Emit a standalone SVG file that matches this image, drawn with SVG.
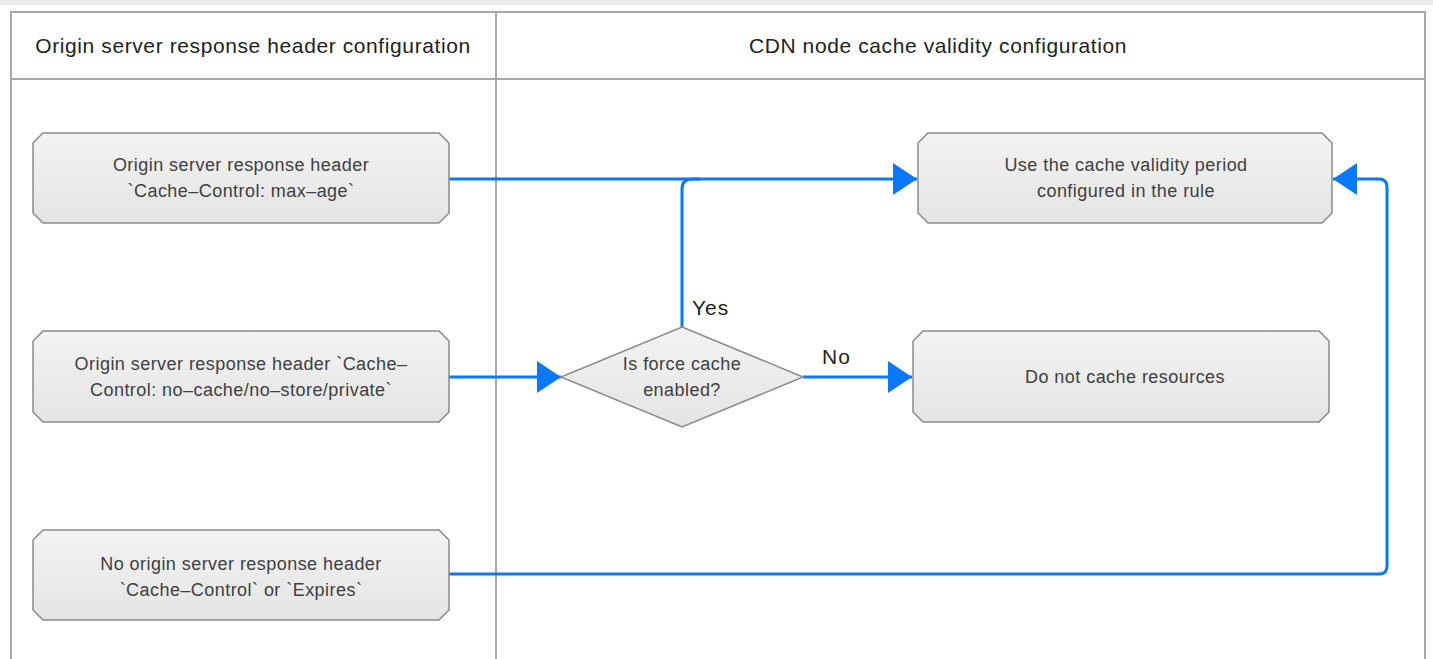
<svg xmlns="http://www.w3.org/2000/svg" width="1433" height="659" viewBox="0 0 1433 659">
  <defs>
    <linearGradient id="nodeFill" x1="0" y1="0" x2="0" y2="1">
      <stop offset="0" stop-color="#f3f3f3"/>
      <stop offset="1" stop-color="#e4e4e4"/>
    </linearGradient>
    <marker id="arrow" viewBox="0 0 24 32" refX="24" refY="16" markerWidth="24" markerHeight="32" markerUnits="userSpaceOnUse" orient="auto">
      <path d="M0,0 L24,16 L0,32 Z" fill="#0a78fa"/>
    </marker>
    <style>
      .frame { fill: none; stroke: #a8a8a8; stroke-width: 2; }
      .node { fill: url(#nodeFill); stroke: #8a8a8a; stroke-width: 1.5; }
      .label { font-family: "Liberation Sans", Arial, sans-serif; font-size: 18px; letter-spacing: 0.45px; fill: #404040; text-anchor: middle; }
      .head { font-family: "Liberation Sans", Arial, sans-serif; font-size: 21px; letter-spacing: 0.6px; fill: #222; text-anchor: middle; }
      .edge { fill: none; stroke: #0a78fa; stroke-width: 3; }
      .tag { font-family: "Liberation Sans", Arial, sans-serif; font-size: 21px; letter-spacing: 1px; fill: #222; }
    </style>
  </defs>

  <rect width="1433" height="659" fill="#ffffff"/>
  <rect x="0" y="0" width="1433" height="5" fill="#ececec"/>

  <!-- swimlane frame -->
  <g id="lanes">
    <rect class="frame" x="11" y="12" width="1414" height="660"/>
    <line class="frame" x1="11" y1="79" x2="1425" y2="79"/>
    <line class="frame" x1="496" y1="12" x2="496" y2="659"/>
    <text class="head" x="253" y="53">Origin server response header configuration</text>
    <text class="head" x="938" y="53">CDN node cache validity configuration</text>
  </g>

  <!-- connectors -->
  <g id="connectors">
    <path class="edge" d="M449,179 L917,179" marker-end="url(#arrow)"/>
    <path class="edge" d="M682,327 L682,189 Q682,179 692,179 L700,179"/>
    <path class="edge" d="M449,377 L561,377" marker-end="url(#arrow)"/>
    <path class="edge" d="M803,377 L912,377" marker-end="url(#arrow)"/>
    <path class="edge" d="M449,574 L1379,574 Q1387,574 1387,566 L1387,187 Q1387,179 1379,179 L1333,179" marker-end="url(#arrow)"/>
    <text class="tag" x="692" y="315">Yes</text>
    <text class="tag" x="822" y="364">No</text>
  </g>

  <g id="node-max-age">
    <path class="node" d="M43,133 L439,133 L449,143 L449,213 L439,223 L43,223 L33,213 L33,143 Z"/>
    <text class="label" x="241" y="171">Origin server response header</text>
    <text class="label" x="241" y="197">`Cache–Control: max–age`</text>
  </g>

  <g id="node-no-cache">
    <path class="node" d="M43,331 L439,331 L449,341 L449,412 L439,422 L43,422 L33,412 L33,341 Z"/>
    <text class="label" x="241" y="370">Origin server response header `Cache–</text>
    <text class="label" x="241" y="396">Control: no–cache/no–store/private`</text>
  </g>

  <g id="node-no-header">
    <path class="node" d="M43,530 L439,530 L449,540 L449,610 L439,620 L43,620 L33,610 L33,540 Z"/>
    <text class="label" x="241" y="570">No origin server response header</text>
    <text class="label" x="241" y="596">`Cache–Control` or `Expires`</text>
  </g>

  <g id="node-force-cache">
    <path class="node" d="M682,327 L803,377 L682,427 L561,377 Z"/>
    <text class="label" x="682" y="370">Is force cache</text>
    <text class="label" x="682" y="396">enabled?</text>
  </g>

  <g id="node-rule-period">
    <path class="node" d="M928,133 L1322,133 L1332,143 L1332,213 L1322,223 L928,223 L918,213 L918,143 Z"/>
    <text class="label" x="1126" y="171">Use the cache validity period</text>
    <text class="label" x="1126" y="197">configured in the rule</text>
  </g>

  <g id="node-do-not-cache">
    <path class="node" d="M923,331 L1319,331 L1329,341 L1329,412 L1319,422 L923,422 L913,412 L913,341 Z"/>
    <text class="label" x="1125" y="383">Do not cache resources</text>
  </g>
</svg>
